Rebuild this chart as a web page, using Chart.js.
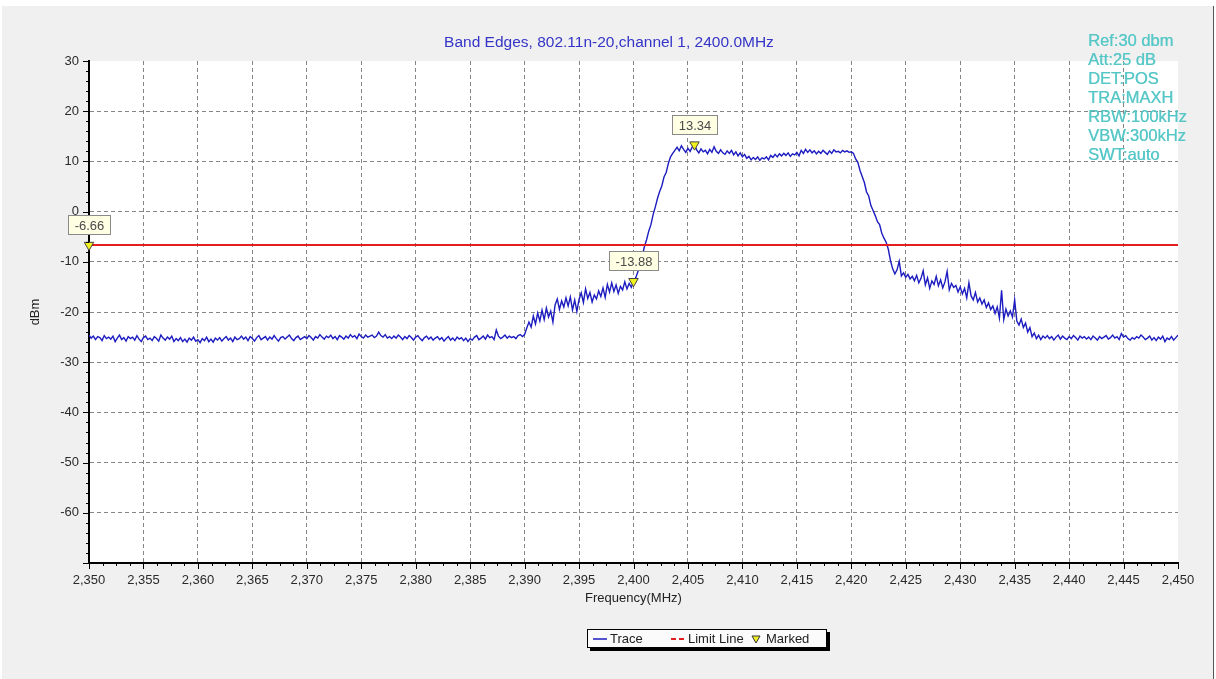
<!DOCTYPE html>
<html>
<head>
<meta charset="utf-8">
<script src="https://cdn.jsdelivr.net/npm/chart.js@4.4.1/dist/chart.umd.min.js"></script>
<style>
  html, body { margin:0; padding:0; background:#ffffff; }
  body { width:1216px; height:679px; position:relative; overflow:hidden; font-family:"Liberation Sans", Arial, sans-serif; }
  #panel { position:absolute; left:2px; top:6px; width:1211px; height:673px; background:#f0f0f0; border-right:1px solid #555; }
  #wrap { position:absolute; left:0; top:0; width:1216px; height:679px; }
  #title { position:absolute; left:0; width:1218px; top:33px; text-align:center; font-size:15.5px; color:#3434c8; }
  #info { position:absolute; left:1088px; top:31px; font-size:16.5px; line-height:19px; color:rgba(84,198,198,0.95); white-space:pre; text-shadow:0.4px 0 0 rgba(84,198,198,0.8); }
  #legend { position:absolute; left:587px; top:629px; width:238px; height:17px; background:#fbfbfb; border:1px solid #000; box-shadow:3px 3px 0 #000; font-size:13px; color:#222; }
  #legend span { position:absolute; top:1px; }
</style>
</head>
<body>
<div id="panel"></div>
<div id="wrap"><canvas id="c" width="1216" height="679"></canvas></div>
<div id="title">Band Edges, 802.11n-20,channel 1, 2400.0MHz</div>
<div id="info">Ref:30 dbm
Att:25 dB
DET:POS
TRA:MAXH
RBW:100kHz
VBW:300kHz
SWT:auto</div>
<div id="legend">
  <svg style="position:absolute;left:5px;top:8px" width="14" height="2"><line x1="0" y1="1" x2="14" y2="1" stroke="#1c1cc0" stroke-width="1.5"/></svg>
  <span style="left:22px">Trace</span>
  <svg style="position:absolute;left:83px;top:8px" width="14" height="2"><line x1="0" y1="1" x2="14" y2="1" stroke="#e02020" stroke-width="2" stroke-dasharray="5,3"/></svg>
  <span style="left:100px">Limit Line</span>
  <svg style="position:absolute;left:163px;top:5px" width="10" height="9"><polygon points="1,1 9,1 5,8" fill="#f0f020" stroke="#333" stroke-width="1"/></svg>
  <span style="left:178px">Marked</span>
</div>
<script>
// ---- data ----
const traceStartMHz = 2350;
const traceStepMHz = 0.2;
const traceDbm = [
  // 2350 - 2389.8
  -24.6,-25.2,-24.8,-25.5,-24.9,-25.1,-25.7,-24.7,-25.3,-25.0,
  -25.4,-24.8,-25.9,-25.2,-24.6,-25.5,-25.1,-25.8,-24.9,-25.3,
  -25.0,-25.6,-24.7,-25.4,-25.9,-25.1,-24.8,-25.5,-25.2,-25.7,
  -24.9,-25.3,-25.8,-24.6,-25.2,-25.6,-25.0,-25.4,-24.8,-25.9,
  -25.3,-25.7,-25.1,-25.9,-25.4,-26.0,-25.2,-25.6,-25.0,-25.8,
  -25.5,-26.1,-25.3,-25.7,-25.0,-25.9,-25.4,-26.0,-25.2,-25.6,
  -25.1,-25.8,-25.3,-24.9,-25.6,-25.2,-25.9,-25.0,-25.5,-25.3,
  -24.8,-25.4,-25.0,-25.7,-24.9,-25.3,-25.8,-25.1,-24.7,-25.5,
  -25.2,-24.9,-25.6,-25.0,-25.4,-24.7,-25.3,-25.8,-25.1,-24.9,
  -25.4,-25.0,-24.6,-25.3,-25.7,-25.1,-24.8,-25.5,-25.2,-24.9,
  -25.3,-24.7,-25.1,-25.6,-24.9,-25.2,-24.5,-25.0,-25.4,-24.8,
  -25.1,-24.6,-25.3,-24.9,-25.5,-24.7,-25.0,-25.4,-24.8,-25.2,
  -24.5,-25.0,-24.7,-25.3,-24.4,-24.9,-25.2,-24.6,-25.0,-24.8,
  -24.6,-25.1,-24.8,-24.0,-24.7,-25.0,-24.5,-25.2,-24.9,-25.3,
  -24.8,-25.2,-24.6,-25.0,-25.5,-24.9,-25.3,-24.7,-25.1,-25.6,
  -25.0,-24.7,-25.3,-25.7,-25.1,-24.8,-25.4,-25.0,-25.6,-25.2,
  -24.9,-25.5,-25.1,-25.8,-25.3,-24.9,-25.6,-25.2,-25.7,-25.0,
  -25.4,-25.1,-25.7,-25.2,-25.9,-25.3,-25.6,-25.0,-24.7,-25.5,
  -25.2,-24.8,-25.4,-24.6,-25.1,-24.9,-25.5,-23.6,-24.8,-25.3,
  -25.0,-24.6,-25.2,-24.8,-25.1,-24.9,-25.3,-24.7,-24.5,-24.9,
  // 2390 - 2399.8
  -24.5,-23.2,-22.0,-23.0,-20.8,-22.4,-20.2,-21.8,-19.6,-21.5,
  -19.2,-21.0,-19.8,-22.0,-18.6,-17.4,-19.5,-17.8,-19.0,-17.2,
  -18.8,-17.0,-19.6,-17.6,-19.9,-17.5,-16.2,-18.1,-15.4,-17.3,
  -16.1,-18.0,-16.6,-17.4,-15.8,-16.9,-15.2,-17.1,-14.5,-16.0,
  -14.2,-15.9,-14.6,-16.3,-14.9,-15.6,-14.0,-15.4,-14.3,-15.1,
  // 2400 - 2403.8
  -13.88,-13.2,-12.0,-10.8,-8.9,-7.0,-5.6,-3.9,-2.6,-0.6,
  0.9,2.6,4.0,5.1,6.9,7.8,9.6,10.9,11.6,12.2,
  // 2404 - 2419.8
  12.8,12.1,13.1,12.4,11.8,12.6,12.0,12.9,13.34,12.3,
  11.7,12.5,11.9,12.2,11.5,12.4,11.8,12.9,12.0,11.6,
  12.3,11.7,11.4,12.1,11.6,12.2,11.3,11.9,11.1,11.7,
  10.9,11.4,10.6,11.0,10.3,10.8,10.4,10.9,10.2,10.7,
  10.5,10.9,10.3,11.2,10.8,11.4,10.9,11.5,11.1,11.6,
  11.2,11.7,11.0,11.5,11.3,11.8,11.1,12.2,11.6,12.4,
  11.8,12.3,11.7,12.1,11.5,12.0,11.6,12.2,11.8,11.4,
  12.1,11.6,12.3,11.9,12.0,11.7,12.2,11.9,12.1,11.8,
  // 2420 - 2437.8
  11.9,11.6,10.5,9.8,8.2,7.0,5.8,3.9,3.1,1.2,
  0.2,-0.8,-2.0,-2.6,-4.3,-5.3,-6.1,-7.5,-9.8,-11.4,
  -12.4,-11.6,-9.9,-12.8,-12.2,-13.1,-12.5,-13.4,-12.9,-13.8,
  -12.7,-14.2,-13.3,-11.8,-14.6,-13.2,-15.3,-13.8,-14.5,-12.9,
  -14.8,-13.6,-15.2,-14.0,-11.9,-15.6,-14.3,-15.1,-14.7,-16.0,
  -15.0,-16.4,-15.3,-17.2,-14.2,-16.8,-17.6,-16.1,-18.0,-17.2,
  -18.4,-17.6,-19.1,-18.2,-19.5,-18.8,-20.3,-19.0,-21.2,-15.7,
  -21.5,-19.4,-20.8,-19.8,-21.0,-17.6,-21.8,-22.6,-21.4,-23.1,
  -22.2,-24.0,-23.1,-24.9,-24.2,-25.3,-24.6,-25.5,-24.8,-25.2,
  // 2438 - 2450
  -24.7,-25.3,-24.9,-25.6,-25.0,-24.6,-25.4,-24.8,-25.2,-25.5,
  -24.9,-25.3,-24.7,-25.1,-25.6,-24.8,-25.2,-24.9,-25.4,-25.0,
  -25.5,-24.8,-25.2,-25.6,-24.9,-25.3,-25.0,-24.7,-25.4,-25.1,
  -24.6,-25.2,-24.9,-25.5,-24.3,-25.0,-24.7,-25.3,-25.6,-25.1,
  -25.4,-24.9,-25.2,-24.6,-25.0,-25.5,-25.2,-24.8,-25.6,-25.1,
  -25.7,-25.0,-25.4,-24.8,-25.9,-25.2,-25.5,-24.9,-25.6,-25.1,
  -24.6
];
const limitDbm = -6.66;
const limitFreqMHz = [2350, 2450];
const markerFreqMHz = [2350, 2400, 2405.6];
const markerDbm = [-6.66, -13.88, 13.34];
const markerLabels = ['-6.66', '-13.88', '13.34'];
const xMin = 2350, xMax = 2450, xStep = 5, xMinorStep = 1.25;
const yMin = -70, yMax = 30, yStep = 10, yMinorStep = 2;
const xTitle = 'Frequency(MHz)';
const yTitle = 'dBm';

const FONT = '"Liberation Sans", Arial, sans-serif';

const traceData = traceDbm.map((v, i) => ({ x: traceStartMHz + i * traceStepMHz, y: v }));
const limitData = limitFreqMHz.map(f => ({ x: f, y: limitDbm }));
const markerData = markerFreqMHz.map((f, i) => ({ x: f, y: markerDbm[i] }));

const decor = {
  id: 'decor',
  beforeDraw(chart) {
    const { ctx, chartArea: a } = chart;
    ctx.save();
    ctx.fillStyle = '#ffffff';
    ctx.fillRect(a.left, a.top, a.right - a.left, a.bottom - a.top);
    ctx.restore();
  },
  afterDraw(chart) {
    const { ctx, chartArea: a, scales: { x, y } } = chart;
    ctx.save();
    ctx.strokeStyle = '#000';
    ctx.lineWidth = 1;
    for (let k = 0; k <= Math.round((xMax - xMin) / xMinorStep); k++) {
      const f = xMin + k * xMinorStep;
      const px = Math.round(x.getPixelForValue(f)) + 0.5;
      const major = k % Math.round(xStep / xMinorStep) === 0;
      ctx.beginPath(); ctx.moveTo(px, a.bottom); ctx.lineTo(px, a.bottom + (major ? 6 : 3)); ctx.stroke();
    }
    for (let k = 0; k <= Math.round((yMax - yMin) / yMinorStep); k++) {
      const v = yMin + k * yMinorStep;
      const py = Math.round(y.getPixelForValue(v)) + 0.5;
      const major = k % Math.round(yStep / yMinorStep) === 0;
      ctx.beginPath(); ctx.moveTo(a.left, py); ctx.lineTo(a.left - (major ? 6 : 3), py); ctx.stroke();
    }
    ctx.fillStyle = '#222';
    ctx.font = '13px ' + FONT;
    ctx.textAlign = 'center';
    ctx.textBaseline = 'middle';
    ctx.fillText(xTitle, (a.left + a.right) / 2, 598);
    ctx.save();
    ctx.translate(35, (a.top + a.bottom) / 2);
    ctx.rotate(-Math.PI / 2);
    ctx.fillText(yTitle, 0, 0);
    ctx.restore();
    ctx.font = '13px ' + FONT;
    markerData.forEach((p, i) => {
      const px = x.getPixelForValue(p.x);
      const py = y.getPixelForValue(p.y);
      const txt = markerLabels[i];
      const w = Math.round(ctx.measureText(txt).width) + 12;
      const h = 19;
      const bx = Math.round(px - w / 2) + 0.5;
      const by = Math.round(py - 11 - h) + 0.5;
      ctx.fillStyle = '#ffffe4';
      ctx.strokeStyle = '#8a8a8a';
      ctx.fillRect(bx, by, w, h);
      ctx.strokeRect(bx, by, w, h);
      ctx.fillStyle = '#4a4a4a';
      ctx.textAlign = 'center';
      ctx.textBaseline = 'middle';
      ctx.fillText(txt, bx + w / 2, by + h / 2 + 1);
    });
    ctx.restore();
  }
};

new Chart(document.getElementById('c'), {
  type: 'line',
  data: {
    datasets: [
      { label: 'Trace', data: traceData, borderColor: '#1c1cc0', borderWidth: 1.4, pointRadius: 0, tension: 0, order: 3 },
      { label: 'Limit Line', data: limitData, borderColor: '#e41e1e', borderWidth: 2, pointRadius: 0, order: 2 },
      { label: 'Marked', data: markerData, showLine: false, pointStyle: 'triangle', rotation: 180, pointRadius: 5.5,
        backgroundColor: '#f2f21e', borderColor: '#444', borderWidth: 1, clip: false, order: 1 }
    ]
  },
  options: {
    responsive: false,
    animation: false,
    events: [],
    layout: { padding: { left: 0, top: 61, right: 38, bottom: 0 } },
    plugins: { legend: { display: false }, tooltip: { enabled: false }, title: { display: false } },
    scales: {
      x: {
        type: 'linear', min: xMin, max: xMax,
        afterFit: s => { s.height = 116; },
        ticks: { stepSize: xStep, padding: 10, color: '#2a2a2a', font: { family: FONT, size: 13 },
          callback: v => Number(v).toLocaleString('en-US'), maxRotation: 0, autoSkip: false },
        grid: { drawTicks: false, color: c => (c.tick && (c.tick.value === xMin || c.tick.value === xMax)) ? 'rgba(0,0,0,0)' : '#858585', lineWidth: 1 },
        border: { display: true, color: '#000', width: 2, dash: [4, 3] }
      },
      y: {
        min: yMin, max: yMax,
        afterFit: s => { s.width = 89; },
        ticks: { stepSize: yStep, padding: 10, color: '#2a2a2a', font: { family: FONT, size: 13 },
          callback: v => (v === yMin ? '' : v) },
        grid: { drawTicks: false, color: c => (c.tick && (c.tick.value === yMin || c.tick.value === yMax)) ? 'rgba(0,0,0,0)' : '#858585', lineWidth: 1 },
        border: { display: true, color: '#000', width: 2, dash: [4, 3] }
      }
    }
  },
  plugins: [decor]
});
</script>
</body>
</html>
